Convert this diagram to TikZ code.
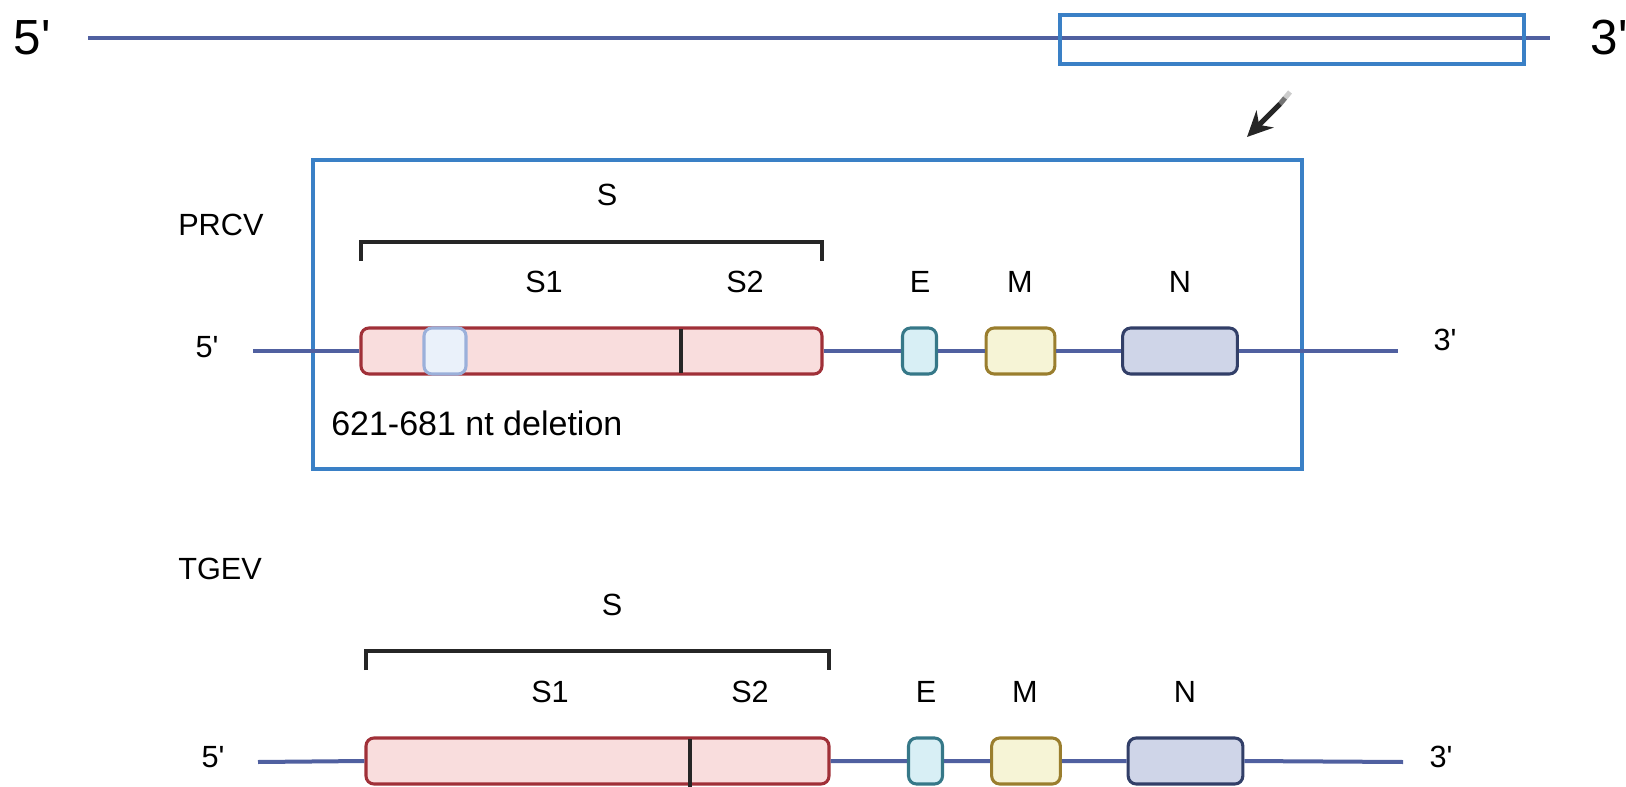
\documentclass[tikz,border=0pt]{standalone}
\usepackage{fontspec}
\setmainfont{Liberation Sans}
\usetikzlibrary{arrows.meta}
\definecolor{rnacol}{RGB}{80,96,160}
\definecolor{framecol}{RGB}{58,128,198}
\definecolor{sfill}{RGB}{249,221,221}
\definecolor{sdraw}{RGB}{160,48,56}
\definecolor{dfill}{RGB}{234,241,250}
\definecolor{ddraw}{RGB}{155,176,218}
\definecolor{efill}{RGB}{216,239,245}
\definecolor{edraw}{RGB}{54,120,136}
\definecolor{mfill}{RGB}{246,244,214}
\definecolor{mdraw}{RGB}{154,126,46}
\definecolor{nfill}{RGB}{207,213,232}
\definecolor{ndraw}{RGB}{50,63,104}
\newcommand{\pr}{\textquotesingle}
\tikzset{
  rna/.style={draw=rnacol,line width=3pt},
  gene/.style={rounded corners=6pt,line width=2.3pt,minimum height=34.5pt,inner sep=0pt},
  sgene/.style={gene,draw=sdraw,fill=sfill},
  delgene/.style={gene,draw=ddraw,fill=dfill},
  egene/.style={gene,draw=edraw,fill=efill,minimum width=25.5pt},
  mgene/.style={gene,draw=mdraw,fill=mfill,minimum width=51.5pt},
  ngene/.style={gene,draw=ndraw,fill=nfill,minimum width=86pt},
  lab/.style={font=\fontsize{23}{27}\selectfont,inner sep=0pt},
  dellab/.style={font=\fontsize{25.5}{29}\selectfont,inner sep=0pt},
  biglab/.style={font=\fontsize{37}{40}\selectfont,inner sep=0pt},
  frame/.style={draw=framecol,line width=2.8pt},
  brk/.style={draw=black!85,line width=2.4pt},
  divider/.style={draw=black!85,line width=2.4pt}
}
\begin{document}
\begin{tikzpicture}[x=0.75pt,y=-0.75pt]
\useasboundingbox (0,0) rectangle (1626,787);
\clip (0,0) rectangle (1626,787);
% ---- top genome line
\node[biglab] (g5) at (32,38) {5\pr};
\node[biglab] (g3) at (1609,38) {3\pr};
\coordinate (gl) at (88,38);
\coordinate (gr) at (1550,38);
\draw[rna] (gl) -- (gr);
\node[frame,minimum width=348pt,minimum height=36.75pt,inner sep=0pt] (zoombox) at (1292,39.5) {};
\coordinate (arrA) at (1290,92);
\coordinate (arrM1) at (1285,98);
\coordinate (arrM2) at (1280,104);
\coordinate (arrB) at (1247,137);
\draw[line width=3.8pt,black!20] (arrA) -- (arrM1);
\draw[line width=3.8pt,black!55] (arrM1) -- (arrM2);
\draw[line width=3.8pt,black!85,-{Stealth[length=19pt,width=18pt]}] (arrM2) -- (arrB);
% ---- PRCV frame
\node[frame,minimum width=741.75pt,minimum height=231.75pt,inner sep=0pt] (prcvframe) at (807.5,314.5) {};
\node[lab,anchor=west] (prcv) at (178,225) {PRCV};
\node[lab] (sP) at (607,195) {S};
\coordinate (bPl) at (361,261);
\coordinate (bPr) at (822,261);
\draw[brk] (bPl) -- ++(0,-19) -| (bPr);
\node[lab] (s1P) at (544,282) {S1};
\node[lab] (s2P) at (745,282) {S2};
\node[lab] (eP) at (920,282) {E};
\node[lab] (mP) at (1020,282) {M};
\node[lab] (nP) at (1180,282) {N};
\node[lab] (p5) at (207,347) {5\pr};
\node[lab] (p3) at (1445,340) {3\pr};
\coordinate (pl) at (253,351);
\coordinate (pr) at (1398,351);
\node[sgene,minimum width=345.75pt] (SP) at (591.5,351) {};
\node[delgene,minimum width=31.5pt] (DP) at (445,351) {};
\node[egene] (EP) at (919.5,351) {};
\node[mgene] (MP) at (1020.5,351) {};
\node[ngene] (NP) at (1180,351) {};
\draw[rna] (pl) -- (SP.west) (SP.east) -- (EP.west) (EP.east) -- (MP.west) (MP.east) -- (NP.west) (NP.east) -- (pr);
\coordinate (dPt) at (681,329);
\coordinate (dPb) at (681,373);
\draw[divider] (dPt) -- (dPb);
\node[dellab,anchor=west] (del) at (331,423) {621-681 nt deletion};
% ---- TGEV
\node[lab,anchor=west] (tgev) at (178,569) {TGEV};
\node[lab] (sT) at (612,605) {S};
\coordinate (bTl) at (366,670);
\coordinate (bTr) at (829,670);
\draw[brk] (bTl) -- ++(0,-19) -| (bTr);
\node[lab] (s1T) at (550,692) {S1};
\node[lab] (s2T) at (750,692) {S2};
\node[lab] (eT) at (926,692) {E};
\node[lab] (mT) at (1025,692) {M};
\node[lab] (nT) at (1185,692) {N};
\node[lab] (t5) at (213,757) {5\pr};
\node[lab] (t3) at (1441,757) {3\pr};
\coordinate (tl) at (258,762);
\coordinate (tr) at (1403,762);
\node[sgene,minimum width=347.25pt] (ST) at (597.5,761) {};
\node[egene] (ET) at (925.5,761) {};
\node[mgene] (MT) at (1026,761) {};
\node[ngene] (NT) at (1185.5,761) {};
\draw[rna] (tl) -- (ST.west) (ST.east) -- (ET.west) (ET.east) -- (MT.west) (MT.east) -- (NT.west) (NT.east) -- (tr);
\coordinate (dTt) at (690,739);
\coordinate (dTb) at (690,787);
\draw[divider] (dTt) -- (dTb);
\end{tikzpicture}
\end{document}
